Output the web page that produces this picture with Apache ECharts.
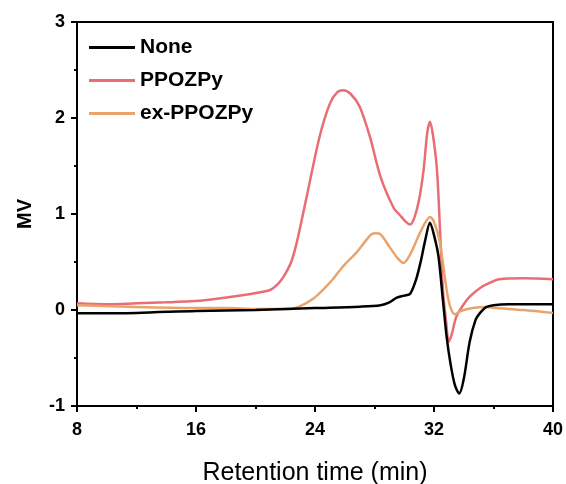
<!DOCTYPE html>
<html>
<head>
<meta charset="utf-8">
<script src="https://cdn.jsdelivr.net/npm/echarts@6/dist/echarts.min.js"></script>
<style>html,body{margin:0;padding:0;background:#fff}#c{width:566px;height:484px}</style>
</head>
<body>
<div id="c"></div>
<script>
const seriesNames = ['None', 'PPOZPy', 'ex-PPOZPy'];
const xTicks = [8, 16, 24, 32, 40];
const yTicks = [-1, 0, 1, 2, 3];

const noneT = [8, 12, 16, 20, 24, 27, 28.4, 29, 29.5, 30, 30.4, 30.8, 31.1, 31.4, 31.73, 32.0, 32.3, 32.6, 32.85, 33.1, 33.4, 33.7, 34.0, 34.4, 34.8, 35.1, 35.5, 36, 37, 40];
const noneV = [-0.035, -0.03, -0.01, 0.0, 0.02, 0.035, 0.05, 0.08, 0.13, 0.15, 0.17, 0.32, 0.5, 0.72, 0.91, 0.78, 0.56, 0.1, -0.28, -0.55, -0.78, -0.87, -0.72, -0.33, -0.1, -0.03, 0.03, 0.05, 0.06, 0.06];

const ppT = [8, 10, 12, 14, 15.6, 17, 19, 20.5, 21, 21.5, 21.9, 22.4, 22.8, 23.4, 24.3, 25, 25.5, 25.9, 26.4, 27.0, 27.7, 28.4, 29.3, 29.7, 30.1, 30.4, 30.7, 31.0, 31.3, 31.55, 31.73, 31.95, 32.2, 32.4, 32.6, 32.8, 33.0, 33.2, 33.5, 34, 34.4, 35.1, 35.7, 36.4, 38, 40];
const ppV = [0.07, 0.06, 0.07, 0.08, 0.09, 0.11, 0.15, 0.19, 0.21, 0.27, 0.35, 0.5, 0.72, 1.15, 1.8, 2.15, 2.27, 2.29, 2.25, 2.12, 1.8, 1.39, 1.06, 0.99, 0.92, 0.89, 0.97, 1.15, 1.46, 1.85, 1.96, 1.8, 1.46, 0.85, 0.21, -0.1, -0.33, -0.25, -0.07, 0.06, 0.14, 0.23, 0.28, 0.32, 0.33, 0.32];

const exT = [8, 12, 16, 18, 20, 22.3, 23, 23.9, 24.6, 25.2, 25.7, 26.1, 26.8, 27.4, 27.8, 28.1, 28.4, 29.0, 29.5, 29.94, 30.4, 30.84, 31.3, 31.73, 32.0, 32.4, 32.85, 33.1, 33.41, 33.8, 34.6, 35.5, 36.2, 38, 40];
const exV = [0.05, 0.03, 0.02, 0.02, 0.01, 0.01, 0.04, 0.12, 0.22, 0.32, 0.42, 0.49, 0.6, 0.72, 0.79, 0.8, 0.79, 0.66, 0.55, 0.49, 0.58, 0.73, 0.88, 0.97, 0.92, 0.7, 0.21, 0.03, -0.045, -0.01, 0.02, 0.03, 0.02, 0.0, -0.03];

const colors = ['#000000', '#e96d74', '#e9a46e'];
const zip = (a, b) => a.map((t, i) => [t, b[i]]);
const dataSets = [zip(noneT, noneV), zip(ppT, ppV), zip(exT, exV)];

const chart = echarts.init(document.getElementById('c'), null, {renderer: 'canvas'});
const fontFam = '"Liberation Sans", Arial, sans-serif';
const tickStyle = {show: true, length: 6, lineStyle: {color: '#000', width: 2}};
const minorStyle = {show: true, splitNumber: 2, length: 3, lineStyle: {color: '#000', width: 2}};
chart.setOption({
  animation: false,
  backgroundColor: '#fff',
  grid: {left: 77, right: 13, top: 22, bottom: 78, show: true, borderColor: '#000', borderWidth: 2, backgroundColor: 'transparent', containLabel: false, outerBoundsMode: 'none'},
  legend: {
    orient: 'vertical', left: 84, top: 31,
    data: seriesNames,
    icon: 'rect', itemWidth: 46, itemHeight: 3, itemGap: 10,
    textStyle: {fontFamily: fontFam, fontWeight: 'bold', fontSize: 21, color: '#000', lineHeight: 23}
  },
  xAxis: {
    type: 'value', min: xTicks[0], max: xTicks[xTicks.length - 1], interval: 8,
    name: 'Retention time (min)', nameLocation: 'middle', nameGap: 55,
    nameTextStyle: {fontFamily: fontFam, fontSize: 25, color: '#000'},
    axisLine: {show: true, onZero: false, lineStyle: {color: '#000', width: 2}},
    axisTick: tickStyle,
    minorTick: minorStyle,
    axisLabel: {fontFamily: fontFam, fontWeight: 'bold', fontSize: 18, color: '#000', margin: 15},
    splitLine: {show: false}
  },
  yAxis: {
    type: 'value', min: yTicks[0], max: yTicks[yTicks.length - 1], interval: 1,
    name: 'MV', nameLocation: 'middle', nameGap: 42,
    nameTextStyle: {fontFamily: fontFam, fontWeight: 'bold', fontSize: 20, color: '#000'},
    axisLine: {show: true, onZero: false, lineStyle: {color: '#000', width: 2}},
    axisTick: tickStyle,
    minorTick: minorStyle,
    axisLabel: {fontFamily: fontFam, fontWeight: 'bold', fontSize: 18, color: '#000', margin: 12},
    splitLine: {show: false}
  },
  series: seriesNames.map((n, i) => ({
    name: n, type: 'line', data: dataSets[i], showSymbol: false, symbol: 'none',
    smooth: 0.3, lineStyle: {color: colors[i], width: 2.5}, itemStyle: {color: colors[i]},
    z: i === 0 ? 4 : (i === 2 ? 3 : 2)
  }))
});
</script>
</body>
</html>
